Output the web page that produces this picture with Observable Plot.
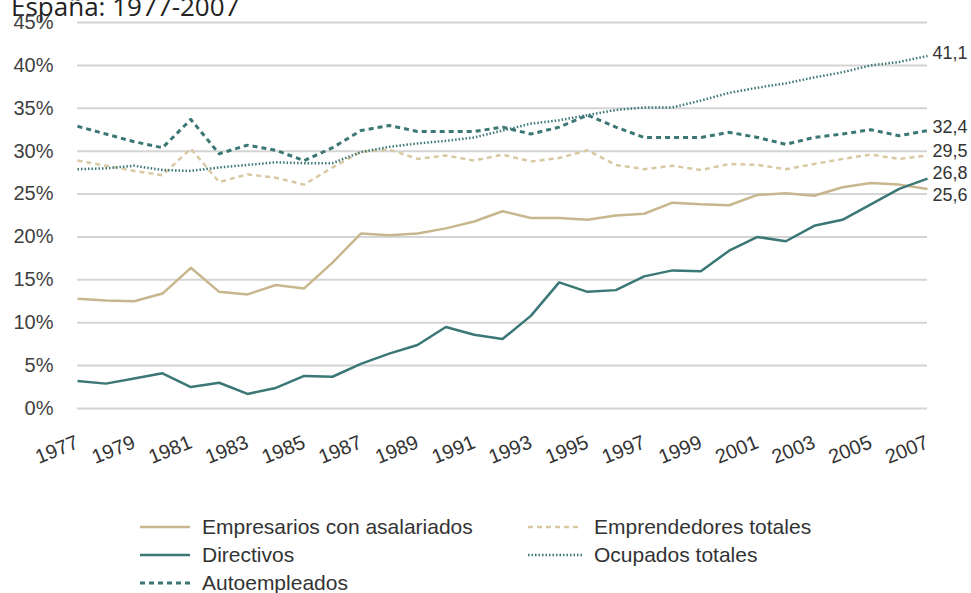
<!DOCTYPE html>
<html>
<head>
<meta charset="utf-8">
<script src="https://cdn.jsdelivr.net/npm/d3@7"></script>
<script src="https://cdn.jsdelivr.net/npm/@observablehq/plot@0.6"></script>
<style>
  html, body { margin: 0; padding: 0; background: #ffffff; }
  #wrap { position: relative; width: 971px; height: 593px; overflow: hidden; font-family: "Liberation Sans", Arial, sans-serif; }
  #title { position: absolute; left: 11px; top: -7px; font-family: "Open Sans", sans-serif; font-size: 26px; line-height: 26px; color: #222; white-space: nowrap; }
  #chart { position: absolute; left: 0; top: 0; }
  .leg { position: absolute; display: flex; align-items: center; font-size: 21px; color: #333; white-space: nowrap; }
  .leg svg { margin-right: 12px; }
</style>
</head>
<body>
<div id="wrap">
  <div id="title">España: 1977-2007</div>
  <div id="chart"></div>
  <div id="legend"></div>
</div>
<script>
// ---- data ----
const years = [1977,1978,1979,1980,1981,1982,1983,1984,1985,1986,1987,1988,1989,1990,1991,1992,1993,1994,1995,1996,1997,1998,1999,2000,2001,2002,2003,2004,2005,2006,2007];
const xTicks = [1977,1979,1981,1983,1985,1987,1989,1991,1993,1995,1997,1999,2001,2003,2005,2007];
const yTicks = [0,5,10,15,20,25,30,35,40,45];
const seriesNames = ["Empresarios con asalariados","Directivos","Autoempleados","Emprendedores totales","Ocupados totales"];
const empresarios = [12.8,12.6,12.5,13.4,16.4,13.6,13.3,14.4,14.0,17.0,20.4,20.2,20.4,21.0,21.8,23.0,22.2,22.2,22.0,22.5,22.7,24.0,23.8,23.7,24.9,25.1,24.8,25.8,26.3,26.1,25.6];
const directivos = [3.2,2.9,3.5,4.1,2.5,3.0,1.7,2.4,3.8,3.7,5.2,6.4,7.4,9.5,8.6,8.1,10.8,14.7,13.6,13.8,15.4,16.1,16.0,18.4,20.0,19.5,21.3,22.0,23.8,25.6,26.8];
const autoempleados = [32.9,32.0,31.1,30.4,33.7,29.7,30.7,30.1,28.9,30.4,32.4,33.0,32.3,32.3,32.3,32.8,32.0,32.8,34.2,32.8,31.6,31.6,31.6,32.2,31.6,30.8,31.6,32.0,32.5,31.8,32.4];
const emprendedores = [28.9,28.3,27.7,27.2,30.3,26.4,27.3,26.9,26.1,28.1,29.9,30.2,29.1,29.5,28.9,29.6,28.8,29.2,30.1,28.4,27.9,28.3,27.8,28.5,28.4,27.9,28.5,29.1,29.6,29.1,29.5];
const ocupados = [27.9,28.0,28.3,27.8,27.7,28.1,28.4,28.7,28.6,28.6,29.9,30.5,30.9,31.2,31.6,32.4,33.2,33.6,34.2,34.8,35.1,35.1,35.9,36.8,37.4,37.9,38.6,39.2,40.0,40.4,41.1];
const endLabels = ["25,6","26,8","32,4","29,5","41,1"];

// ---- styles (not data) ----
const TAN = "#c8b78e", TAN_LIGHT = "#d8c9a2", TEAL = "#3a7775";
const styles = {
  "Empresarios con asalariados": {stroke: TAN, strokeWidth: 2.5, dash: null, dy: 6},
  "Directivos": {stroke: TEAL, strokeWidth: 2.5, dash: null, dy: -5},
  "Autoempleados": {stroke: TEAL, strokeWidth: 3, dash: "5,4", dy: -3},
  "Emprendedores totales": {stroke: TAN_LIGHT, strokeWidth: 2.5, dash: "5,4", dy: -4},
  "Ocupados totales": {stroke: TEAL, strokeWidth: 2.5, dash: "1.5,2", dy: -3}
};
const valueLists = [empresarios, directivos, autoempleados, emprendedores, ocupados];
const series = seriesNames.map((name, i) => ({
  name,
  rows: years.map((year, j) => ({year, value: valueLists[i][j]})),
  label: endLabels[i]
}));

const marks = [
  Plot.gridY(yTicks, {stroke: "#d4d4d4", strokeWidth: 2, strokeOpacity: 1}),
  Plot.axisY(yTicks, {tickSize: 0, tickPadding: 24, tickFormat: d => d + "%", fontSize: 20, fill: "#3f3f3f", label: null}),
  Plot.axisX(xTicks, {tickSize: 0, tickPadding: 33, tickRotate: -22, tickFormat: d => String(d), fontSize: 20, fill: "#333", label: null})
];
// draw in layering order: tan lines below teal ones
const order = ["Emprendedores totales","Empresarios con asalariados","Ocupados totales","Autoempleados","Directivos"];
for (const name of order) {
  const s = series.find(d => d.name === name);
  const st = styles[name];
  marks.push(Plot.line(s.rows, {x: "year", y: "value", stroke: st.stroke, strokeWidth: st.strokeWidth, strokeDasharray: st.dash, strokeLinejoin: "round", strokeLinecap: "butt"}));
}
for (const s of series) {
  const st = styles[s.name];
  const last = s.rows[s.rows.length - 1];
  marks.push(Plot.text([{year: last.year, value: last.value, label: s.label}], {x: "year", y: "value", text: "label", textAnchor: "start", dx: 5, dy: st.dy, fontSize: 18, fill: "#333"}));
}

const chart = Plot.plot({
  width: 971,
  height: 470,
  marginTop: 22,
  marginBottom: 62,
  marginLeft: 77,
  marginRight: 44,
  x: {domain: [1977, 2007], label: null},
  y: {domain: [0, 45], label: null},
  style: {fontFamily: "'Liberation Sans', Arial, sans-serif", background: "transparent", overflow: "visible"},
  marks
});
document.getElementById("chart").appendChild(chart);

// ---- legend ----
const legendItems = [
  {name: "Empresarios con asalariados", x: 140, y: 527, sw: 50},
  {name: "Emprendedores totales", x: 528, y: 527, sw: 54},
  {name: "Directivos", x: 140, y: 555, sw: 50},
  {name: "Ocupados totales", x: 528, y: 555, sw: 54},
  {name: "Autoempleados", x: 140, y: 583, sw: 50}
];
const legend = document.getElementById("legend");
for (const it of legendItems) {
  const st = styles[it.name];
  const div = document.createElement("div");
  div.className = "leg";
  div.style.left = it.x + "px";
  div.style.top = (it.y - 12) + "px";
  div.style.height = "24px";
  div.innerHTML = `<svg width="${it.sw}" height="6"><line x1="0" x2="${it.sw}" y1="3" y2="3" stroke="${st.stroke}" stroke-width="${st.strokeWidth}" ${st.dash ? `stroke-dasharray="${st.dash}"` : ""}/></svg><span>${it.name}</span>`;
  legend.appendChild(div);
}
</script>
</body>
</html>
